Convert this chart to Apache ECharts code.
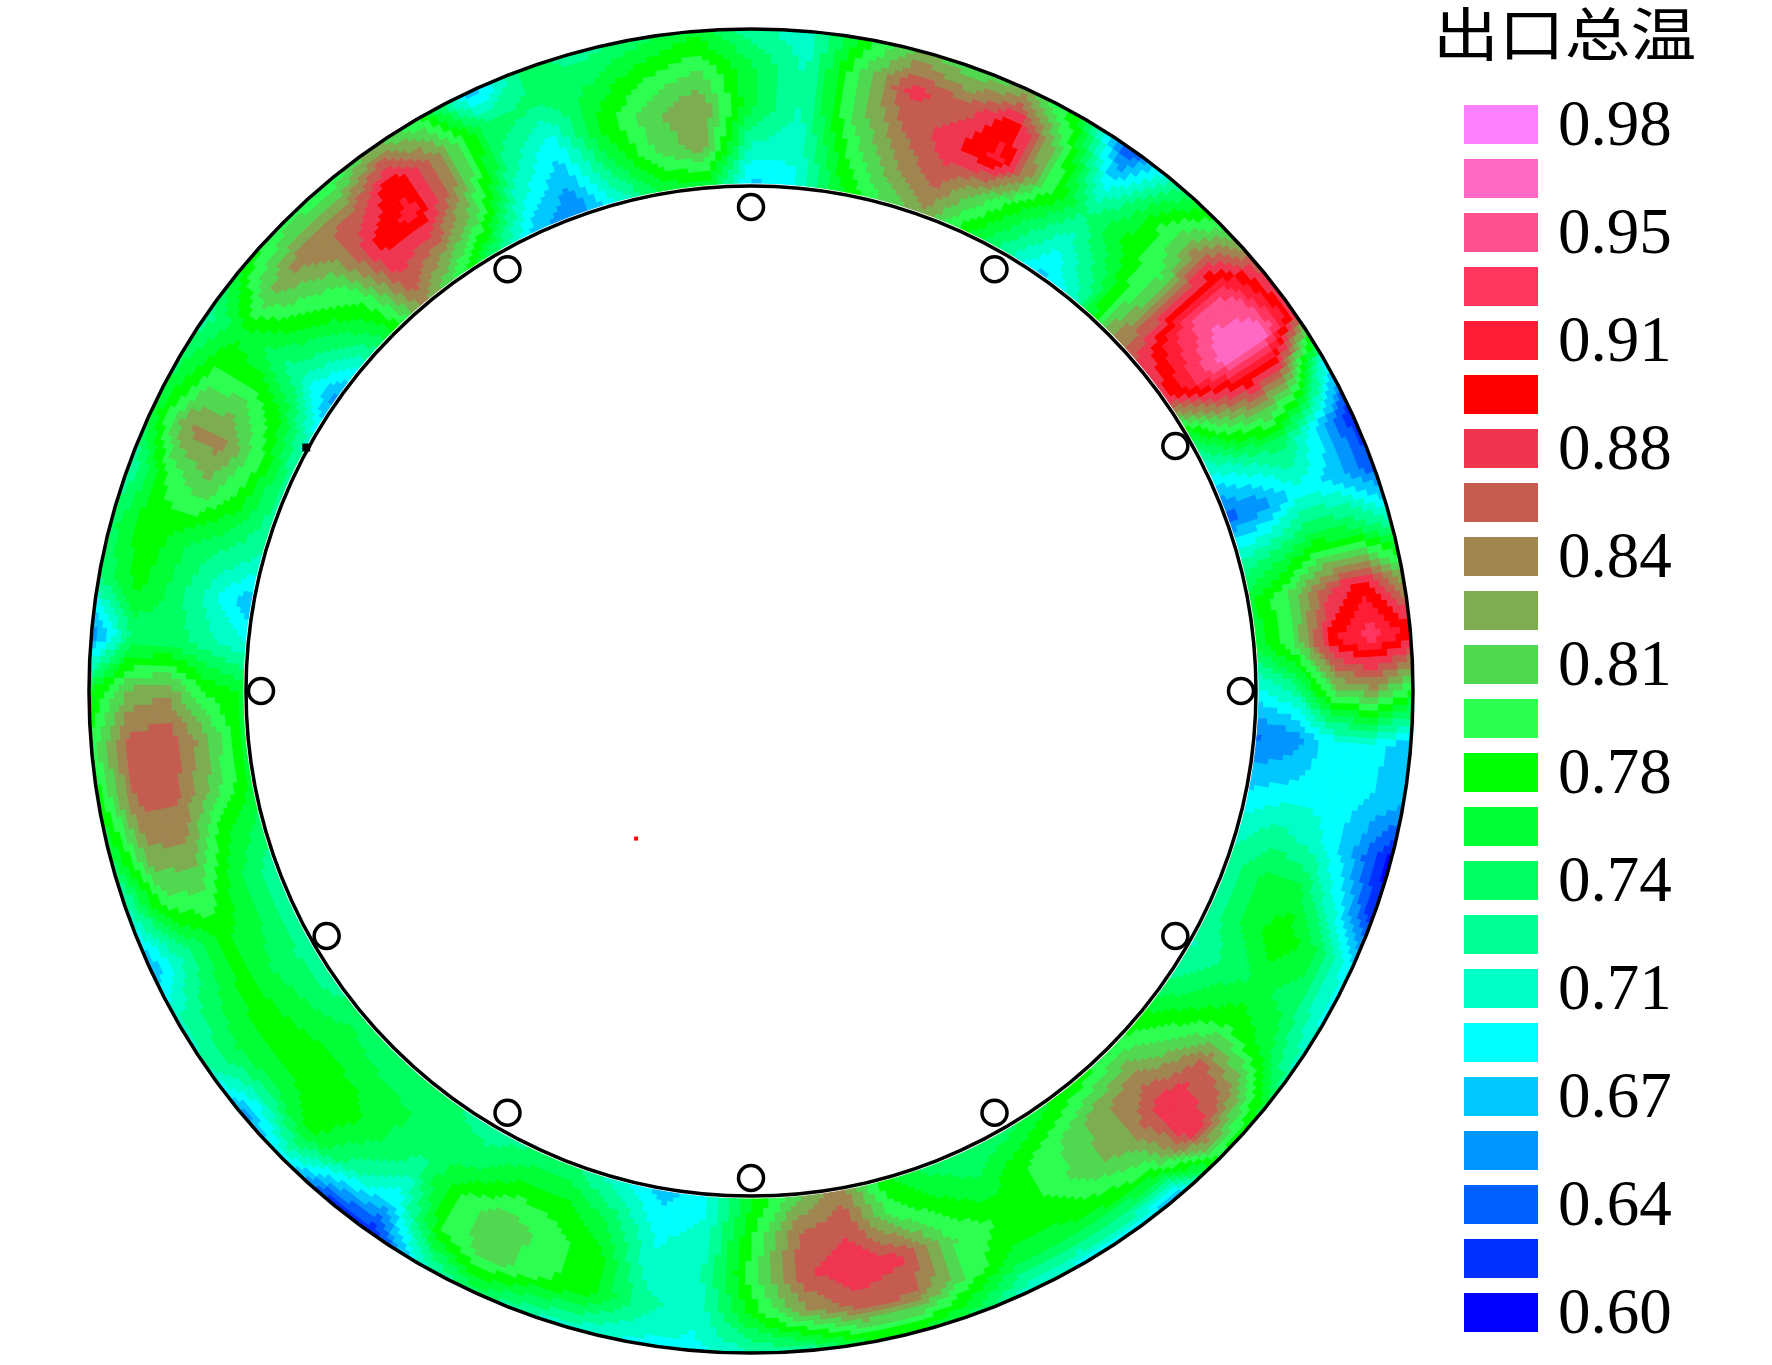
<!DOCTYPE html>
<html>
<head>
<meta charset="utf-8">
<title>出口总温</title>
<style>html,body{margin:0;padding:0;background:#fff}#c{width:1772px;height:1365px}</style>
<script src="https://cdn.jsdelivr.net/npm/echarts@6/dist/echarts.min.js"></script>
</head>
<body>
<div id="c"></div>
<script>
const titleText = '出口总温';
const legendLabels = ['0.98','','0.95','','0.91','','0.88','','0.84','','0.81','','0.78','','0.74','','0.71','','0.67','','0.64','','0.60'];
const legendColors = ['#ff80ff','#ff69c4','#ff5090','#ff3560','#ff1d35','#ff0000','#f03550','#c45c50','#a08550','#7dad50','#50d850','#2dff50','#00ff00','#00ff35','#00ff60','#00ff95','#00ffc8','#00ffff','#00c8ff','#0095ff','#0060ff','#0030ff','#0000ff'];
const levelMin = 0.60, levelMax = 0.98;
// probe stations: angle clockwise from the top, and their radii
const probeAngles = [0,30,60,90,120,150,180,210,240,270,330];
const probeRadii = [484,487,490,490,490,487,487,487,490,490,487];
const ringEdges = [505, 662];
const fieldRadii = [508, 546, 585, 623, 662];
// total temperature by spoke (every 5 degrees clockwise from the top), inner to outer radius
const fieldBySpoke = [
[.67,.71,.75,.75,.72],[.69,.70,.71,.71,.70],[.76,.78,.80,.80,.77],[.80,.83,.85,.875,.82],
[.83,.86,.88,.855,.80],[.77,.81,.91,.90,.82],[.72,.75,.80,.80,.76],[.67,.70,.73,.68,.62],
[.71,.74,.77,.76,.72],[.83,.81,.80,.83,.79],[.87,.91,.945,.93,.86],[.88,.93,.97,.97,.88],
[.75,.82,.85,.82,.69],[.69,.72,.74,.68,.61],[.635,.65,.69,.67,.63],[.71,.73,.76,.75,.71],
[.76,.80,.86,.895,.82],[.75,.80,.90,.93,.90],[.69,.72,.81,.83,.78],[.64,.65,.69,.69,.66],
[.67,.68,.69,.68,.66],[.70,.72,.70,.66,.60],[.72,.75,.75,.69,.61],[.72,.75,.78,.75,.68],
[.71,.73,.75,.74,.69],[.73,.76,.78,.76,.71],[.77,.80,.86,.84,.76],[.79,.84,.88,.885,.78],
[.77,.83,.83,.79,.66],[.76,.80,.81,.77,.69],[.74,.78,.78,.76,.69],[.73,.75,.78,.76,.70],
[.74,.77,.80,.80,.74],[.77,.80,.87,.855,.76],[.845,.865,.882,.86,.76],[.81,.85,.865,.83,.72],
[.76,.78,.79,.77,.71],[.69,.70,.71,.70,.69],[.67,.69,.70,.72,.69],[.70,.74,.77,.77,.70],
[.73,.77,.79,.785,.71],[.73,.77,.812,.812,.74],[.72,.74,.785,.78,.70],[.73,.74,.72,.68,.61],
[.73,.75,.75,.72,.62],[.73,.755,.78,.77,.69],[.74,.76,.78,.74,.65],[.72,.75,.775,.75,.71],
[.72,.74,.77,.74,.71],[.72,.75,.77,.72,.66],[.72,.75,.80,.79,.70],[.74,.77,.835,.83,.74],
[.76,.81,.855,.855,.77],[.76,.82,.865,.86,.79],[.76,.78,.83,.82,.76],[.70,.72,.74,.73,.64],
[.66,.70,.74,.77,.73],[.71,.73,.75,.78,.74],[.72,.77,.81,.78,.71],[.72,.79,.84,.835,.75],
[.70,.77,.80,.79,.74],[.65,.71,.74,.76,.72],[.70,.74,.78,.82,.77],[.76,.78,.81,.85,.79],
[.84,.87,.89,.85,.78],[.79,.85,.91,.90,.82],[.73,.80,.83,.83,.78],[.67,.70,.73,.74,.66],
[.64,.665,.685,.73,.74],[.70,.74,.77,.75,.72],[.75,.80,.81,.78,.74],[.76,.825,.835,.80,.76]
];
const spokeStep = 5;

function colorOf(v){
  const n = legendColors.length - 1;
  let k = Math.round((v - levelMin) / (levelMax - levelMin) * n);
  k = Math.max(0, Math.min(n, k));
  return legendColors[n - k];
}
const cells = [];
fieldBySpoke.forEach((row, i) => {
  for (let j = 0; j < fieldRadii.length - 1; j++) cells.push([fieldRadii[j], i * spokeStep, i, j]);
});
const SUB_A = 8, SUB_R = 8;
function renderCell(params, api){
  const i = api.value(2), j = api.value(3);
  const i2 = (i + 1) % fieldBySpoke.length;
  const a0 = i * spokeStep, r0 = fieldRadii[j], r1 = fieldRadii[j + 1];
  const v00 = fieldBySpoke[i][j], v01 = fieldBySpoke[i][j + 1], v10 = fieldBySpoke[i2][j], v11 = fieldBySpoke[i2][j + 1];
  const children = [];
  for (let s = 0; s < SUB_A; s++) {
    for (let t = 0; t < SUB_R; t++) {
      const u = (s + .5) / SUB_A, w = (t + .5) / SUB_R;
      const v = v00 * (1 - u) * (1 - w) + v10 * u * (1 - w) + v01 * (1 - u) * w + v11 * u * w;
      const c = colorOf(v);
      const aa = a0 + spokeStep * s / SUB_A, ab = a0 + spokeStep * (s + 1) / SUB_A;
      const ra = r0 + (r1 - r0) * t / SUB_R, rb = r0 + (r1 - r0) * (t + 1) / SUB_R;
      const pts = [api.coord([ra, aa]), api.coord([ra, ab]), api.coord([rb, ab]), api.coord([rb, aa])].map(p => [p[0], p[1]]);
      children.push({type: 'polygon', shape: {points: pts}, style: {fill: c, stroke: c, lineWidth: 1}, silent: true});
    }
  }
  return {type: 'group', children};
}
function renderEdge(params, api){
  const c = api.coord([0, 0]);
  const e = api.coord([api.value(0), 90]);
  return {type: 'circle', shape: {cx: c[0], cy: c[1], r: Math.abs(e[0] - c[0])},
    style: {fill: 'none', stroke: '#000', lineWidth: 3.5}, silent: true};
}
const chart = echarts.init(document.getElementById('c'), null, {renderer: 'canvas'});
chart.setOption({
  animation: false,
  backgroundColor: '#fff',
  graphic: [{type: 'text', x: 1433, y: 5, scaleX: 1.135, silent: true,
    style: {text: titleText, fontFamily: '"Noto Sans CJK SC"', fontSize: 58, fontWeight: 'normal', fill: '#000', verticalAlign: 'top', align: 'left'}}],
  polar: {center: [751, 691], radius: 662},
  angleAxis: {show: false, type: 'value', min: 0, max: 360, startAngle: 90, clockwise: true},
  radiusAxis: {show: false, type: 'value', min: 0, max: 662},
  grid: {left: 1464, width: 74, top: 97.5, height: 1242, containLabel: false},
  xAxis: {show: false, type: 'value', min: 0, max: 1},
  yAxis: {type: 'category', inverse: true, position: 'right', data: legendLabels,
    axisLine: {show: false}, axisTick: {show: false}, splitLine: {show: false},
    axisLabel: {interval: 0, margin: 20, formatter: v => v ? '{v|' + v + '}' : '',
      rich: {v: {padding: [7,0,0,0], fontFamily: '"Liberation Serif"', fontSize: 65, color: '#000'}}}},
  series: [
    {type: 'custom', coordinateSystem: 'polar', renderItem: renderCell, data: cells, encode: {radius: 0, angle: 1}, clip: false, progressive: 0, silent: true},
    {type: 'custom', coordinateSystem: 'polar', renderItem: renderEdge, data: ringEdges.map(r => [r, 0]), encode: {radius: 0, angle: 1}, clip: false, silent: true},
    {type: 'scatter', coordinateSystem: 'polar', symbol: 'circle', symbolSize: 25, silent: true,
      itemStyle: {color: 'rgba(255,255,255,0)', borderColor: '#000', borderWidth: 3.5, opacity: 1},
      data: probeAngles.map((a, i) => [probeRadii[i], a])},
    {type: 'scatter', coordinateSystem: 'polar', symbol: 'rect', symbolSize: 8, silent: true, itemStyle: {color: '#000', opacity: 1}, data: [[507, 298.7]]},
    {type: 'scatter', coordinateSystem: 'polar', symbol: 'rect', symbolSize: 4, silent: true, itemStyle: {color: '#f00', opacity: 1}, data: [[187, 217.9]]},
    {type: 'bar', xAxisIndex: 0, yAxisIndex: 0, barWidth: 39, silent: true,
      data: legendColors.map(c => ({value: 1, itemStyle: {color: c}}))}
  ]
});
</script>
</body>
</html>
